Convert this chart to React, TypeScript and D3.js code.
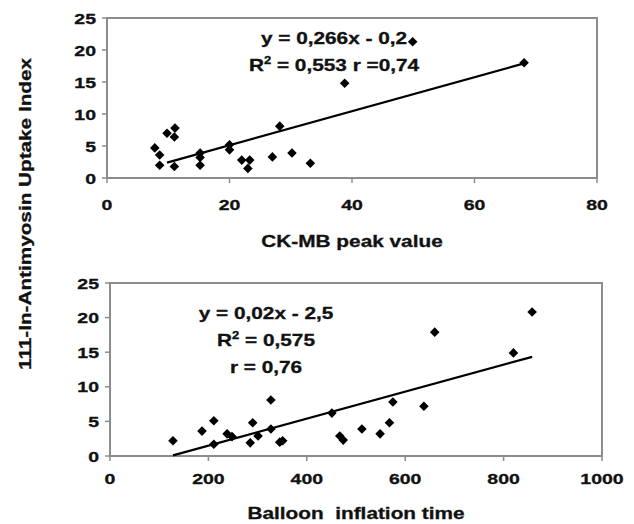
import React from "react";
import * as d3 from "d3";

const ckX = [7.8, 8.6, 8.6, 9.8, 11.1, 11.0, 11.0, 15.2, 15.2, 15.2, 20, 20, 22, 23.3, 23, 27, 28.2, 30.2, 33.2, 38.8, 49.9, 68.1];
const ckY = [4.7, 3.6, 2.0, 7.0, 7.8, 6.4, 1.8, 3.9, 3.2, 2.0, 5.2, 4.4, 2.8, 2.8, 1.5, 3.3, 8.1, 3.9, 2.3, 14.8, 21.3, 18.0];
const balX = [128, 187, 211, 211, 238, 248, 285, 290, 301, 327, 327, 345, 351, 451, 467, 474, 512, 549, 568, 575, 638, 660, 820, 858];
const balY = [2.2, 3.6, 5.1, 1.7, 3.2, 2.8, 1.9, 4.8, 2.9, 3.9, 8.1, 2.0, 2.2, 6.2, 2.9, 2.3, 3.9, 3.2, 4.8, 7.8, 7.2, 17.9, 14.9, 20.8];

const ckTrend = { slope: 0.266, intercept: -0.2, from: 9.8, to: 68.1 };
const balTrend = { slope: 0.0195, intercept: -2.4, from: 128, to: 858 };

const yTicks = [0, 5, 10, 15, 20, 25];
const ckXTicks = [0, 20, 40, 60, 80];
const balXTicks = [0, 200, 400, 600, 800, 1000];

const ckEq = ["y = 0,266x - 0,2", "R|2| = 0,553 r =0,74"];
const balEq = ["y = 0,02x - 2,5", "R|2| = 0,575", "r = 0,76"];

const FONT = "'Liberation Sans', Arial, sans-serif";
const SX = 1.3;
const INK = "#111";

function Txt({ x, y, anchor = "middle", size = 15, children }: any) {
  return (
    <text
      transform={`translate(${x},${y}) scale(${SX},1)`}
      textAnchor={anchor}
      fontFamily={FONT}
      fontWeight="bold"
      fontSize={size}
      fill={INK}
      stroke={INK}
      strokeWidth={0.3}
      style={{ whiteSpace: "pre" }}
    >
      {children}
    </text>
  );
}

function EqLine({ x, y, s }: any) {
  const parts = s.split("|");
  if (parts.length === 1) return <Txt x={x} y={y} size={16}>{s}</Txt>;
  return (
    <Txt x={x} y={y} size={16}>
      {parts[0]}
      <tspan fontSize={10} dy={-7}>{parts[1]}</tspan>
      <tspan dy={7}>{parts[2]}</tspan>
    </Txt>
  );
}

function Panel({ xs, ys, xDomain, xRange, yRange, xTicks, trend, eq, eqX, eqY, title, tickY, titleY }: any) {
  const x = d3.scaleLinear().domain(xDomain).range(xRange);
  const y = d3.scaleLinear().domain([0, 25]).range(yRange);
  const line = d3.line<number>().x((d) => x(d)).y((d) => y(trend.slope * d + trend.intercept));
  const sym = d3.symbol().type(d3.symbolSquare).size(46)();
  const frame = "#8c8c8c";
  return (
    <g>
      <rect
        x={xRange[0]}
        y={yRange[1]}
        width={xRange[1] - xRange[0]}
        height={yRange[0] - yRange[1]}
        fill="none"
        stroke={frame}
        strokeWidth={2}
      />
      {yTicks.map((t) => (
        <g key={"y" + t}>
          <line x1={xRange[0] - 5} x2={xRange[0]} y1={y(t)} y2={y(t)} stroke={frame} strokeWidth={1.5} />
          <Txt x={xRange[0] - 11} y={y(t) + 5.5} anchor="end">{t}</Txt>
        </g>
      ))}
      {xTicks.map((t: number) => (
        <g key={"x" + t}>
          <line x1={x(t)} x2={x(t)} y1={yRange[0]} y2={yRange[0] + 5} stroke={frame} strokeWidth={1.5} />
          <Txt x={x(t)} y={tickY}>{t}</Txt>
        </g>
      ))}
      <path d={line([trend.from, trend.to]) || ""} stroke="#000" strokeWidth={2.2} fill="none" />
      {xs.map((v: number, i: number) => (
        <path key={i} d={sym || ""} transform={`translate(${x(v)},${y(ys[i])}) rotate(45)`} fill="#000" />
      ))}
      {eq.map((s: string, i: number) => (
        <EqLine key={i} x={eqX} y={eqY + i * 27} s={s} />
      ))}
      <Txt x={(xRange[0] + xRange[1]) / 2} y={titleY} size={16}>{title}</Txt>
    </g>
  );
}

export default function App() {
  return (
    <svg width={634} height={524} style={{ display: "block", position: "absolute", left: 0, top: 0 }}>
      <rect width={634} height={524} fill="#fff" />
      <Panel
        xs={ckX}
        ys={ckY}
        xDomain={[0, 80]}
        xRange={[107, 597]}
        yRange={[178, 18]}
        xTicks={ckXTicks}
        trend={ckTrend}
        eq={ckEq}
        eqX={334}
        eqY={44}
        title="CK-MB peak value"
        tickY={210}
        titleY={247}
      />
      <Panel
        xs={balX}
        ys={balY}
        xDomain={[0, 1000]}
        xRange={[110, 602]}
        yRange={[456, 283]}
        xTicks={balXTicks}
        trend={balTrend}
        eq={balEq}
        eqX={266}
        eqY={319}
        title={"Balloon  inflation time"}
        tickY={484}
        titleY={519}
      />
      <text
        transform="translate(31,214) rotate(-90)"
        textAnchor="middle"
        fontFamily={FONT}
        fontWeight="bold"
        fontSize={17}
        fill={INK}
        stroke={INK}
        strokeWidth={0.3}
        textLength={312}
        lengthAdjust="spacingAndGlyphs"
      >
        111-In-Antimyosin Uptake Index
      </text>
    </svg>
  );
}
